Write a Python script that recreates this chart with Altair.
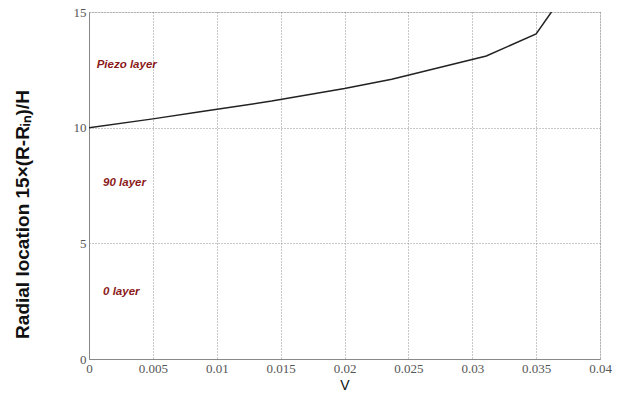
import altair as alt
import pandas as pd

# Radial location vs. V curve
v_values = [0.0, 0.005, 0.0087, 0.0143, 0.0200, 0.0237, 0.0311, 0.0350, 0.0362]
r_values = [10.0, 10.38, 10.69, 11.15, 11.69, 12.09, 13.10, 14.05, 15.0]

# Layer annotations
layer_names = ["Piezo layer", "90 layer", "0 layer"]
layer_x = [0.0006, 0.0011, 0.0011]
layer_y = [12.7, 7.6, 2.9]

x_ticks = [0, 0.005, 0.01, 0.015, 0.02, 0.025, 0.03, 0.035, 0.04]
y_ticks = [0, 5, 10, 15]

curve = pd.DataFrame({"v": v_values, "r": r_values})
labels = pd.DataFrame({"name": layer_names, "v": layer_x, "r": layer_y})

x_scale = alt.Scale(domain=[0, 0.04], nice=False, zero=False)
y_scale = alt.Scale(domain=[0, 15], nice=False)

x_axis = alt.Axis(
    title="V", values=x_ticks, labelExpr="datum.value == 0 ? '0' : format(datum.value, '.3~f')",
    grid=True, gridDash=[1, 2], gridColor="#777", gridWidth=0.8,
    domainColor="#888", tickColor="#888", tickSize=0,
    labelFont="Liberation Serif", labelFontSize=13, labelColor="#555", labelPadding=3,
    titleFont="Liberation Sans", titleFontSize=14, titleFontWeight="normal", titleColor="#111",
    titlePadding=3, labelFlush=False,
)
y_axis = alt.Axis(
    title="Radial location  15×(R-Rᵢₙ)/H", values=y_ticks,
    grid=True, gridDash=[1, 2], gridColor="#777", gridWidth=0.8,
    domainColor="#888", tickColor="#888", tickSize=0,
    labelFont="Liberation Serif", labelFontSize=13, labelColor="#555", labelPadding=3,
    titleFont="Liberation Sans", titleFontSize=19, titleFontWeight="bold", titleColor="#111",
    titleX=-67, titleY=202, titleAngle=270, titleBaseline="middle",
)

line = alt.Chart(curve).mark_line(color="#222", strokeWidth=1.5, clip=True).encode(
    x=alt.X("v:Q", scale=x_scale, axis=x_axis),
    y=alt.Y("r:Q", scale=y_scale, axis=y_axis),
)

text = alt.Chart(labels).mark_text(
    align="left", baseline="middle", font="Liberation Sans", fontSize=11.5,
    fontStyle="italic", fontWeight="bold", color="#8b1a1a",
).encode(x=alt.X("v:Q", scale=x_scale), y=alt.Y("r:Q", scale=y_scale), text="name:N")

chart = (line + text).properties(
    width=511, height=347,
    autosize=alt.AutoSizeParams(type="none"),
    padding={"left": 89, "top": 12, "right": 21, "bottom": 35},
).configure_view(stroke="#888", strokeWidth=1).configure(background="white")

chart.save("out.html", embed_options={"renderer": "svg", "actions": False})
